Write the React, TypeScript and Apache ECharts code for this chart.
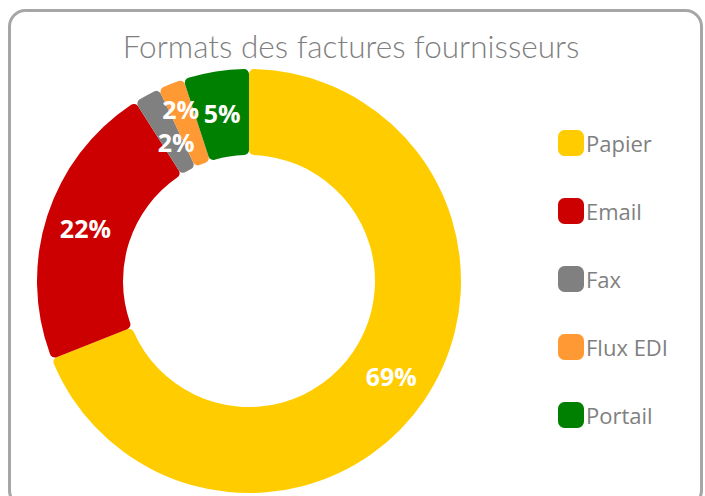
import React, { useEffect, useRef } from "react";
import * as echarts from "echarts";

const categories = ["Papier", "Email", "Fax", "Flux EDI", "Portail"];
const values = [69, 22, 2, 2, 5];
const colors = ["#FFCC00", "#CC0000", "#808080", "#FF9933", "#008000"];
const labelShift: [number, number][] = [[0, -2], [0, 0], [10, 12], [-5, -12], [0, 2]];
const title = "Formats des factures fournisseurs";

export default function App() {
  const ref = useRef<HTMLDivElement>(null);
  useEffect(() => {
    document.body.style.margin = "0";
    const chart = echarts.init(ref.current!, null, { renderer: "svg" });
    chart.setOption({
      animation: false,
      backgroundColor: "#ffffff",
      title: {
        text: title,
        left: 346,
        top: 25,
        textAlign: "center",
        textStyle: { color: "#7f7f7f", fontFamily: "Lato", fontWeight: 300, fontSize: 31.5 },
      },
      legend: {
        orient: "vertical",
        left: 553,
        top: 125,
        itemWidth: 26,
        itemHeight: 26,
        itemGap: 42,
        icon: "roundRect",
        textStyle: { color: "#808080", fontFamily: "Open Sans", fontSize: 22, padding: [0, 0, 0, -3] },
        data: categories,
      },
      graphic: [
        {
          type: "rect",
          shape: { x: 9.5, y: 10.5, width: 692, height: 496, r: 16 },
          style: { fill: "none", stroke: "#a6a6a6", lineWidth: 3 },
          silent: true,
        },
      ],
      series: [
        {
          type: "pie",
          center: [249, 281],
          radius: [126, 212],
          startAngle: 90,
          clockwise: true,
          itemStyle: { borderRadius: 5 },
          label: {
            show: true,
            position: "inside",
            formatter: "{c}%",
            color: "#ffffff",
            fontFamily: "Open Sans",
            fontWeight: "bold",
            fontSize: 25,
          },
          labelLine: { show: false },
          labelLayout: (p: any) => ({ dx: labelShift[p.dataIndex][0], dy: labelShift[p.dataIndex][1] }),
          data: categories.map((name, i) => ({ name, value: values[i], itemStyle: { color: colors[i] } })),
        },
      ],
    });
    return () => chart.dispose();
  }, []);
  return <div ref={ref} style={{ width: 705, height: 496 }} />;
}
